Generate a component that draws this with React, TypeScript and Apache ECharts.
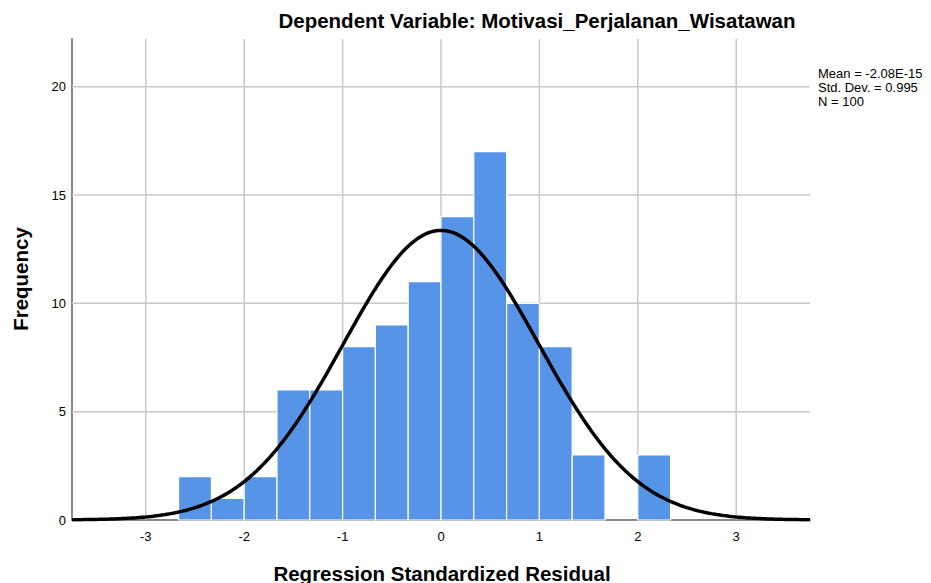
import React, { useEffect, useRef } from "react";
import * as echarts from "echarts";

const binStart = -2.6667;
const binWidth = 1 / 3;
const frequencies = [2, 1, 2, 6, 6, 8, 9, 11, 14, 17, 10, 8, 3, 0, 3];
const meanValue = 0;
const stdDev = 0.995;
const nCount = 100;
const statsLines = ["Mean = -2.08E-15", "Std. Dev. = 0.995", "N = 100"];
const xTicks = [-3, -2, -1, 0, 1, 2, 3];
const yTicks = [0, 5, 10, 15, 20];

export default function App() {
  const ref = useRef<HTMLDivElement>(null);
  useEffect(() => {
    if (!ref.current) return;
    const chart = echarts.init(ref.current, undefined, { renderer: "svg" });
    const bars = frequencies.map((f, i) => [binStart + i * binWidth, binStart + (i + 1) * binWidth, f]);
    const curve: number[][] = [];
    for (let i = 0; i <= 300; i++) {
      const x = -3.75 + (7.5 * i) / 300;
      const y = (nCount * binWidth) / (stdDev * Math.sqrt(2 * Math.PI)) * Math.exp(-((x - meanValue) ** 2) / (2 * stdDev * stdDev));
      curve.push([x, y]);
    }
    const font = "Liberation Sans, Arial, sans-serif";
    chart.setOption({
      animation: false,
      grid: { left: 72, right: 121, top: 39, bottom: 63 },
      graphic: [
        {
          type: "text",
          x: 537,
          y: 20,
          style: { text: "Dependent Variable: Motivasi_Perjalanan_Wisatawan", font: `bold 20.5px ${font}`, fill: "#000", align: "center", verticalAlign: "middle" },
        },
        ...statsLines.map((t, i) => ({
          type: "text",
          x: 818,
          y: 73 + i * 14,
          style: { text: t, font: `13px ${font}`, fill: "#000", verticalAlign: "middle" },
        })),
        {
          type: "text",
          x: 20,
          y: 279,
          rotation: Math.PI / 2,
          style: { text: "Frequency", font: `bold 20.5px ${font}`, fill: "#000", align: "center", verticalAlign: "middle" },
        },
        {
          type: "text",
          x: 442,
          y: 573,
          style: { text: "Regression Standardized Residual", font: `bold 20.5px ${font}`, fill: "#000", align: "center", verticalAlign: "middle" },
        },
      ],
      xAxis: {
        type: "value",
        min: -3.75,
        max: 3.75,
        axisLine: { show: true, onZero: false, lineStyle: { color: "#888", width: 2 } },
        axisTick: { show: false },
        splitLine: { show: false },
        axisLabel: { show: false },
      },
      yAxis: {
        type: "value",
        min: 0,
        max: 22.2,
        axisLine: { show: true, onZero: false, lineStyle: { color: "#888", width: 2 } },
        axisTick: { show: false },
        splitLine: { show: false },
        axisLabel: { show: false },
      },
      series: [
        {
          type: "custom",
          silent: true,
          z: 1,
          renderItem: (params: any, api: any) => {
            const idx = params.dataIndex;
            const children: any[] = [];
            if (idx === 0) {
              xTicks.forEach((t) => {
                const top = api.coord([t, 22.2]);
                const bot = api.coord([t, 0]);
                children.push({
                  type: "line",
                  shape: { x1: top[0], y1: top[1], x2: bot[0], y2: bot[1] },
                  style: { stroke: "#c8c8c8", lineWidth: 1.5 },
                });
                children.push({
                  type: "text",
                  x: bot[0],
                  y: bot[1] + 16,
                  style: { text: String(t), font: `13px ${font}`, fill: "#000", align: "center", verticalAlign: "middle" },
                });
              });
              yTicks.forEach((t) => {
                const l = api.coord([-3.75, t]);
                const r = api.coord([3.75, t]);
                if (t > 0)
                  children.push({
                    type: "line",
                    shape: { x1: l[0], y1: l[1], x2: r[0], y2: r[1] },
                    style: { stroke: "#c8c8c8", lineWidth: 1.5 },
                  });
                children.push({
                  type: "text",
                  x: l[0] - 6,
                  y: l[1],
                  style: { text: String(t), font: `13px ${font}`, fill: "#000", align: "right", verticalAlign: "middle" },
                });
              });
            }
            return { type: "group", children };
          },
          data: [[0]],
        },
        {
          type: "custom",
          silent: true,
          z: 2,
          renderItem: (params: any, api: any) => {
            const p0 = api.coord([api.value(0), 0]);
            const p1 = api.coord([api.value(1), api.value(2)]);
            if (api.value(2) <= 0) return { type: "group", children: [] };
            return {
              type: "rect",
              shape: { x: p0[0], y: p1[1], width: p1[0] - p0[0], height: p0[1] - p1[1] },
              style: { fill: "#5594e6", stroke: "#ffffff", lineWidth: 1.2 },
            };
          },
          data: bars,
        },
        {
          type: "line",
          z: 3,
          silent: true,
          showSymbol: false,
          smooth: false,
          lineStyle: { color: "#000", width: 3.5 },
          data: curve,
        },
      ],
    });
    return () => chart.dispose();
  }, []);
  return <div ref={ref} style={{ width: 931, height: 583, position: "absolute", left: 0, top: 0 }} />;
}
